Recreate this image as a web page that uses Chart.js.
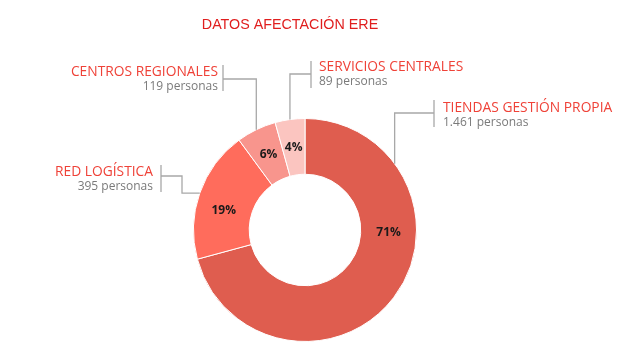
<!DOCTYPE html>
<html>
<head>
<meta charset="utf-8">
<script src="https://cdn.jsdelivr.net/npm/chart.js@4.4.0/dist/chart.umd.min.js"></script>
<style>
  html, body { margin: 0; padding: 0; background: #fff; }
  #wrap { width: 640px; height: 362px; position: relative; }
</style>
</head>
<body>
<div id="wrap"><canvas id="ereChart" width="640" height="362"></canvas></div>
<script>
// Datos
const categorias = ['TIENDAS GESTIÓN PROPIA', 'RED LOGÍSTICA', 'CENTROS REGIONALES', 'SERVICIOS CENTRALES'];
const personas = [1461, 395, 119, 89];
const etiquetasPersonas = ['1.461 personas', '395 personas', '119 personas', '89 personas'];
const colores = ['#DF5D4F', '#FF6C5C', '#F8958D', '#FBC5C0'];
const titulo = 'DATOS AFECTACIÓN ERE';

// Posición de las etiquetas exteriores (layout)
const etiquetas = [
    { align: 'left',  tx: 443, ty: 108, barX: 434, barY: [100, 127], elbowY: 113, frac: 0.21, pctFrac: 0.36 },
    { align: 'right', tx: 153, ty: 172, barX: 161, barY: [165, 192], elbowY: 176, elbowX: 182, frac: 0.5, pctFrac: 0.42 },
    { align: 'right', tx: 218, ty: 72,  barX: 223, barY: [65, 91],   elbowY: 79,  frac: 0.5, pctFrac: 0.5 },
    { align: 'left',  tx: 319, ty: 67,  barX: 311, barY: [61, 88],   elbowY: 74,  frac: 0.5, pctFrac: 0.5 }
];

const total = personas.reduce((a, b) => a + b, 0);

const pluginEtiquetas = {
    id: 'etiquetasEre',
    afterDatasetsDraw(chart) {
        const ctx = chart.ctx;
        const meta = chart.getDatasetMeta(0);
        ctx.save();

        // porcentajes dentro del anillo
        ctx.font = '700 12px "Open Sans"';
        ctx.fillStyle = '#1a1a1a';
        ctx.textAlign = 'center';
        ctx.textBaseline = 'middle';
        meta.data.forEach((arc, i) => {
            const e = etiquetas[i];
            const ang = arc.startAngle + (arc.endAngle - arc.startAngle) * e.pctFrac;
            const r = (arc.innerRadius + arc.outerRadius) / 2;
            ctx.fillText(Math.round(personas[i] / total * 100) + '%',
                arc.x + Math.cos(ang) * r, arc.y + Math.sin(ang) * r);
        });

        // líneas guía y textos
        etiquetas.forEach((e, i) => {
            const arc = meta.data[i];
            const ang = arc.startAngle + (arc.endAngle - arc.startAngle) * e.frac;
            const ax = arc.x + Math.cos(ang) * arc.outerRadius;
            const ay = arc.y + Math.sin(ang) * arc.outerRadius;

            ctx.strokeStyle = '#a8a8a8';
            ctx.lineWidth = 1.3;
            ctx.beginPath();
            ctx.moveTo(ax, ay);
            if (e.elbowX !== undefined) {
                ctx.lineTo(e.elbowX, ay);
                ctx.lineTo(e.elbowX, e.elbowY);
            } else {
                ctx.lineTo(ax, e.elbowY);
            }
            ctx.lineTo(e.barX, e.elbowY);
            ctx.stroke();

            ctx.beginPath();
            ctx.moveTo(e.barX, e.barY[0]);
            ctx.lineTo(e.barX, e.barY[1]);
            ctx.stroke();

            ctx.textAlign = e.align;
            ctx.textBaseline = 'middle';
            ctx.font = '13.8px "Open Sans"';
            ctx.fillStyle = '#EF4238';
            ctx.fillText(categorias[i], e.tx, e.ty);
            ctx.font = '12px "Open Sans"';
            ctx.fillStyle = '#7a7a7a';
            ctx.fillText(etiquetasPersonas[i], e.tx, e.ty + 14.5);
        });

        // título
        ctx.font = '14.3px "Liberation Sans"';
        ctx.fillStyle = '#E01E1E';
        ctx.textAlign = 'center';
        ctx.fillText(titulo, 290, 25);
        ctx.restore();
    }
};

new Chart(document.getElementById('ereChart'), {
    type: 'doughnut',
    data: {
        labels: categorias,
        datasets: [{
            data: personas,
            backgroundColor: colores,
            borderColor: '#ffffff',
            borderWidth: 1
        }]
    },
    options: {
        responsive: false,
        animation: false,
        cutout: '50%',
        layout: { padding: { left: 193, right: 223, top: 118, bottom: 20 } },
        plugins: { legend: { display: false }, tooltip: { enabled: false } },
        events: []
    },
    plugins: [pluginEtiquetas]
});
</script>
</body>
</html>
